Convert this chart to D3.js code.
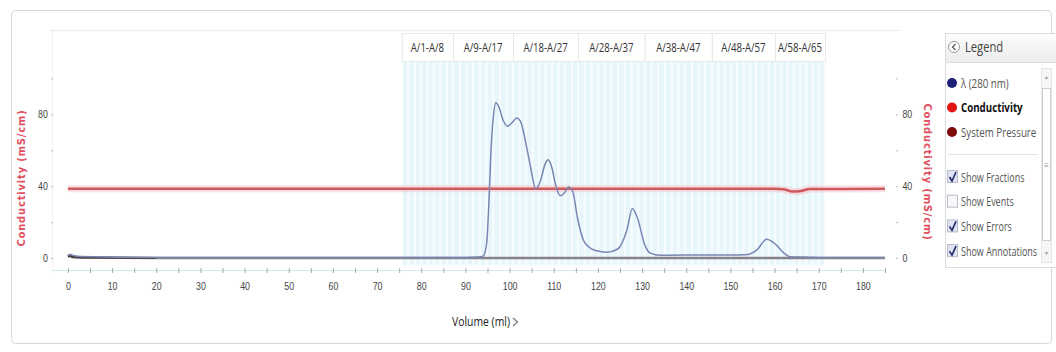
<!DOCTYPE html>
<html>
<head>
<meta charset="utf-8">
<script src="https://cdn.jsdelivr.net/npm/d3@7"></script>
<style>
  body { margin: 0; background: #fff; }
  svg { display: block; font-family: "Open Sans", "Noto Sans", sans-serif; }
</style>
</head>
<body>
<svg width="1056" height="352"></svg>
<script>
// --- data ---
const uvVol = [0, 0.5, 1.5, 3, 20, 60, 90, 93, 94, 94.8, 95.3, 95.8, 96.3, 96.9, 97.6, 98.5, 99.5, 100.6, 101.6, 102.5, 103.6, 104.8, 105.9, 107, 108, 108.7, 109.5, 110.5, 111.5, 112.5, 113.4, 114.3, 115.4, 116.7, 118, 119.7, 122, 124.5, 126.5, 127.8, 129, 130.5, 131.8, 134, 140, 150, 154, 156, 158.2, 160.5, 162, 163.5, 166, 170, 175, 185]
const uvVal = [1.5, 2, 1.2, 0.8, 0.3, 0.3, 0.3, 0.5, 1, 8, 30, 60, 78, 86.5, 84, 77, 73.4, 75.5, 78, 76, 65, 50, 38.5, 43, 52, 54.7, 51, 40, 34.6, 36.5, 39.5, 37, 22, 10, 6, 4, 3.2, 5, 15, 27.4, 22, 8, 2.8, 1.5, 1.6, 1.6, 2, 4.5, 10.4, 7, 3, 0.7, 0.5, 0.3, 0.2, 0.2]

const condVol = [0, 75, 160, 162, 164, 166, 168, 185]
const condVal = [38.6, 38.6, 38.5, 38.3, 37, 37.3, 38.4, 38.5]

const presVol = [0, 0.5, 1, 3, 20, 185]
const presVal = [0.8, 1.2, 0.6, 0.3, 0, 0]

const fracLabels = ['A/1-A/8', 'A/9-A/17', 'A/18-A/27', 'A/28-A/37', 'A/38-A/47', 'A/48-A/57', 'A/58-A/65']
const fracStart = [75.6, 87.2, 100.8, 115.5, 130.6, 145.8, 160.1]
const fracEnd = [87.2, 100.8, 115.5, 130.6, 145.8, 160.1, 171.4]
const fracCount = [8, 9, 10, 10, 10, 10, 8]

const xTicks = [0, 10, 20, 30, 40, 50, 60, 70, 80, 90, 100, 110, 120, 130, 140, 150, 160, 170, 180]
const yTicks = [0, 40, 80]

const legendItems = [
  {name: 'λ (280 nm)', color: '#1a1f7a', bold: false},
  {name: 'Conductivity', color: '#e31414', bold: true},
  {name: 'System Pressure', color: '#7d0b0b', bold: false}
]
const checkItems = [
  {name: 'Show Fractions', on: true},
  {name: 'Show Events', on: false},
  {name: 'Show Errors', on: true},
  {name: 'Show Annotations', on: true}
]

// --- setup ---
const svg = d3.select('svg')
const x = d3.scaleLinear().domain([-3.6, 185]).range([52, 885])
const y = d3.scaleLinear().domain([-6.7, 127]).range([270, 30])
const SX = 0.8 // the screenshot text is squeezed sideways

// condensed text at a point
function ntext(g, px, py, s, size, sx = SX) {
  return g.append('text').attr('transform', `translate(${px},${py}) scale(${sx},1)`)
    .attr('font-size', size).text(s)
}

// outer frame
svg.append('rect').attr('x', 11.5).attr('y', 10.5).attr('width', 1040).attr('height', 333)
  .attr('rx', 4).attr('fill', '#fff').attr('stroke', '#d8d8d8')

// plot top line + left axis line
svg.append('line').attr('x1', 50).attr('x2', 900).attr('y1', 30.5).attr('y2', 30.5).attr('stroke', '#ececec')
svg.append('line').attr('x1', 52.5).attr('x2', 52.5).attr('y1', 31).attr('y2', 268).attr('stroke', '#efefef')

// fractions
const fracs = []
fracLabels.forEach((l, i) => {
  const w = (fracEnd[i] - fracStart[i]) / fracCount[i]
  for (let k = 0; k < fracCount[i]; k++) fracs.push([fracStart[i] + k * w, fracStart[i] + (k + 1) * w])
})
const $frac = svg.append('g')
$frac.append('rect').attr('x', x(fracStart[0])).attr('y', 62)
  .attr('width', x(fracEnd[fracEnd.length - 1]) - x(fracStart[0])).attr('height', 203).attr('fill', '#f7fdfe')
$frac.selectAll('rect.f').data(fracs).enter().append('rect').attr('class', 'f')
  .attr('x', d => x(d[0]) + 1.2).attr('y', 62)
  .attr('width', d => x(d[1]) - x(d[0]) - 2.2).attr('height', 203)
  .attr('fill', '#e6f6fb')

const $lab = svg.append('g')
fracLabels.forEach((l, i) => {
  $lab.append('rect').attr('x', x(fracStart[i]) + 0.5).attr('y', 33.5)
    .attr('width', x(fracEnd[i]) - x(fracStart[i])).attr('height', 28)
    .attr('fill', '#fff').attr('stroke', '#e8e8e8')
  ntext($lab, (x(fracStart[i]) + x(fracEnd[i])) / 2, 52, l, 12)
    .attr('text-anchor', 'middle').attr('fill', '#333')
})

// x axis
const xAxis = d3.axisBottom(x).tickValues(d3.range(0, 186, 5)).tickSize(3).tickFormat(d => xTicks.includes(d) ? d : '')
const $xa = svg.append('g').attr('transform', 'translate(0,270)').call(xAxis)
$xa.select('.domain').attr('stroke', '#cfe9ee')
$xa.selectAll('.tick line').attr('stroke', '#aaa').attr('y1', -2)
$xa.selectAll('.tick text').attr('font-size', 11).attr('fill', '#444').attr('dy', '1.25em')
  .attr('font-family', 'inherit').attr('transform', `scale(${SX},1)`)

// y axes
function yAxisStyle(g) {
  g.select('.domain').remove()
  g.selectAll('.tick line').attr('stroke', '#bbb')
  g.selectAll('.tick text').attr('font-size', 11).attr('fill', '#444').attr('font-family', 'inherit')
}
svg.append('g').attr('transform', 'translate(53,0)')
  .call(d3.axisLeft(y).tickValues([0, 20, 40, 60, 80, 100]).tickSize(2).tickFormat(d => yTicks.includes(d) ? d : ''))
  .call(yAxisStyle)
  .selectAll('.tick text').attr('transform', `translate(-${(1 - SX) * 6},0) scale(${SX},1)`)
svg.append('g').attr('transform', 'translate(896,0)')
  .call(d3.axisRight(y).tickValues([0, 20, 40, 60, 80, 100]).tickSize(2).tickFormat(d => yTicks.includes(d) ? d : ''))
  .call(yAxisStyle)
  .selectAll('.tick text').attr('transform', `scale(${SX},1) translate(3,0)`)

// axis titles
svg.append('text').attr('transform', 'translate(25,178) rotate(-90)').attr('text-anchor', 'middle')
  .attr('font-weight', 'bold').attr('letter-spacing', 0.8).attr('fill', '#e0505e')
  .attr('font-family', 'DejaVu Sans, sans-serif').attr('font-size', 10)
  .text('Conductivity (mS/cm)')
svg.append('text').attr('transform', 'translate(924,172) rotate(90)').attr('text-anchor', 'middle')
  .attr('font-weight', 'bold').attr('letter-spacing', 0.8).attr('fill', '#e0505e')
  .attr('font-family', 'DejaVu Sans, sans-serif').attr('font-size', 10)
  .text('Conductivity (mS/cm)')
ntext(svg, 481, 326, 'Volume (ml)', 13).attr('text-anchor', 'middle').attr('fill', '#222')
svg.append('path').attr('d', 'M513,318 L517.5,322 L513,326').attr('fill', 'none').attr('stroke', '#888').attr('stroke-width', 1.5)

// series
const lin = d3.line().x(d => x(d[0])).y(d => y(d[1]))
const smooth = d3.line().x(d => x(d[0])).y(d => y(d[1])).curve(d3.curveMonotoneX)
const cond = condVol.map((v, i) => [v, condVal[i]])
const pres = presVol.map((v, i) => [v, presVal[i]])
const uv = uvVol.map((v, i) => [v, uvVal[i]])

svg.append('path').datum(cond).attr('d', smooth).attr('fill', 'none').attr('stroke', '#f7c4ca').attr('stroke-width', 7).attr('opacity', 0.55)
svg.append('path').datum(pres).attr('d', lin).attr('fill', 'none').attr('stroke', '#8a8088').attr('stroke-width', 2.5)
svg.append('path').datum(pres.slice(0, 5)).attr('d', smooth).attr('fill', 'none').attr('stroke', '#4a3a3a').attr('stroke-width', 2)
svg.append('path').datum(cond).attr('d', smooth)
  .attr('fill', 'none').attr('stroke', '#cf5a5e').attr('stroke-width', 2.5)
svg.append('path').datum(uv).attr('d', smooth)
  .attr('fill', 'none').attr('stroke', '#7886b2').attr('stroke-width', 1.5)

// legend panel
const $leg = svg.append('g')
$leg.append('rect').attr('x', 945.5).attr('y', 33.5).attr('width', 120).attr('height', 234).attr('fill', '#fff').attr('stroke', '#dcdcdc')
const grad = svg.append('defs').append('linearGradient').attr('id', 'hg').attr('x1', 0).attr('x2', 0).attr('y1', 0).attr('y2', 1)
grad.append('stop').attr('offset', 0).attr('stop-color', '#fdfdfd')
grad.append('stop').attr('offset', 1).attr('stop-color', '#ececec')
$leg.append('rect').attr('x', 945.5).attr('y', 33.5).attr('width', 120).attr('height', 29).attr('fill', 'url(#hg)').attr('stroke', '#dcdcdc')
$leg.append('circle').attr('cx', 954).attr('cy', 47).attr('r', 5.5).attr('fill', '#fff').attr('stroke', '#999')
$leg.append('path').attr('d', 'M955.5,44 L952.5,47 L955.5,50').attr('fill', 'none').attr('stroke', '#555').attr('stroke-width', 1.2)
ntext($leg, 965, 52, 'Legend', 14).attr('fill', '#444')

legendItems.forEach((d, i) => {
  const cy = 83 + i * 24.5
  $leg.append('circle').attr('cx', 952).attr('cy', cy).attr('r', 5).attr('fill', d.color)
  ntext($leg, 961, cy + 4.5, d.name, 12.5, 0.78)
    .attr('font-weight', d.bold ? 'bold' : 'normal').attr('fill', d.bold ? '#111' : '#555')
})
$leg.append('line').attr('x1', 948).attr('x2', 1038).attr('y1', 154.5).attr('y2', 154.5).attr('stroke', '#e4e4e4')
checkItems.forEach((d, i) => {
  const cy = 177 + i * 24.7
  $leg.append('rect').attr('x', 947.5).attr('y', cy - 6.5).attr('width', 10).attr('height', 12)
    .attr('fill', d.on ? '#dfe3f3' : '#f7f7f7').attr('stroke', '#b8bccb')
  if (d.on) $leg.append('path').attr('d', `M949.5,${cy} L952,${cy + 4} L956,${cy - 5}`).attr('fill', 'none').attr('stroke', '#1d2a6a').attr('stroke-width', 1.6)
  ntext($leg, 961, cy + 4.5, d.name, 12.5, 0.72).attr('fill', '#555')
})
// scrollbar
$leg.append('rect').attr('x', 1041.5).attr('y', 68.5).attr('width', 10).attr('height', 194).attr('fill', '#f6f6f6').attr('stroke', '#e6e6e6')
$leg.append('rect').attr('x', 1042.5).attr('y', 88.5).attr('width', 8).attr('height', 152).attr('fill', '#fff').attr('stroke', '#cfcfcf')
$leg.append('text').attr('x', 1046.5).attr('y', 168).attr('text-anchor', 'middle').attr('font-size', 8).attr('fill', '#999').text('≡')
$leg.append('path').attr('d', 'M1044.5,79 L1046.5,76 L1048.5,79Z').attr('fill', '#aaa')
$leg.append('path').attr('d', 'M1044.5,252 L1046.5,255 L1048.5,252Z').attr('fill', '#aaa')
</script>
</body>
</html>
